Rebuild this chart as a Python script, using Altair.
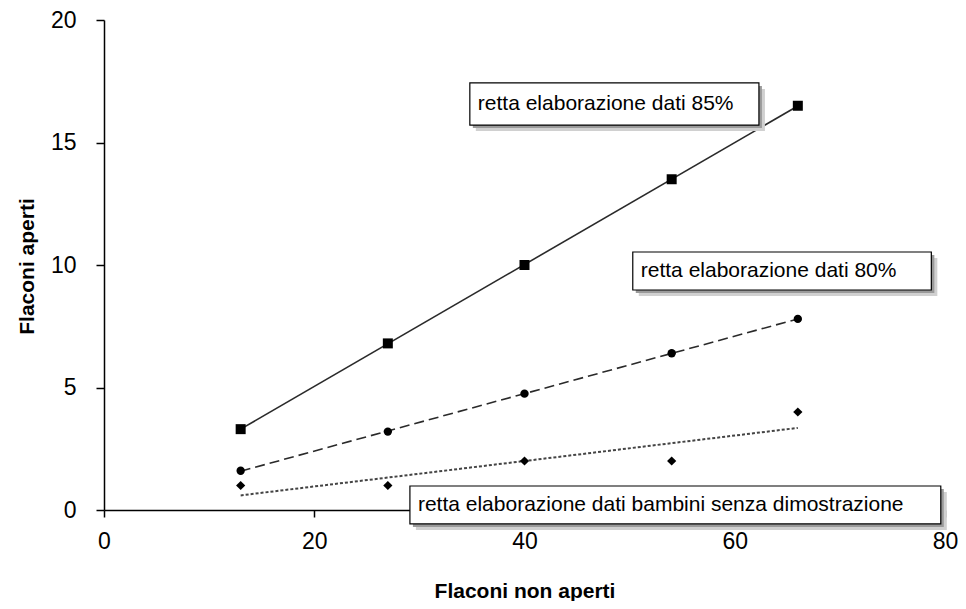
import altair as alt
import pandas as pd

# ---- data ----
flaconi_non_aperti = [13, 27, 40, 54, 66]
aperti_85 = [3.3, 6.8, 10.0, 13.5, 16.5]
aperti_80 = [1.6, 3.2, 4.75, 6.4, 7.8]
aperti_bambini = [1, 1, 2, 2, 4]
series_names = ["85%", "80%", "bambini"]

x_ticks = [0, 20, 40, 60, 80]
y_ticks = [0, 5, 10, 15, 20]

ann_labels = [
    "retta elaborazione dati 85%",
    "retta elaborazione dati 80%",
    "retta elaborazione dati bambini senza dimostrazione",
]
ann_x0 = [34.8, 50.3, 29.1]
ann_x1 = [62.3, 78.7, 79.6]
ann_y0 = [17.43, 10.53, 0.98]
ann_y1 = [15.71, 8.98, -0.57]

# ---- tables ----
df = pd.DataFrame({
    "x": flaconi_non_aperti * 3,
    "y": aperti_85 + aperti_80 + aperti_bambini,
    "serie": [s for s in series_names for _ in flaconi_non_aperti],
})
ann = pd.DataFrame({
    "label": ann_labels, "x0": ann_x0, "x1": ann_x1, "y0": ann_y0, "y1": ann_y1,
})
ann["ym"] = (ann["y0"] + ann["y1"]) / 2

FONT = "Liberation Sans"
xscale = alt.Scale(domain=[0, 80], nice=False)
yscale = alt.Scale(domain=[0, 20], nice=False)

axis_x = alt.Axis(values=x_ticks, grid=False, tickSize=7, labelPadding=13,
                  labelBaseline="top", labelFlush=False,
                  titleY=87, titleBaseline="alphabetic")
axis_y = alt.Axis(values=y_ticks, grid=False, tickSize=8, labelPadding=20,
                  labelFlush=False,
                  titleX=-71, titleY=246, titleAngle=-90,
                  titleBaseline="alphabetic", titleAlign="center")

def X(field):
    return alt.X(f"{field}:Q", scale=xscale, axis=axis_x, title="Flaconi non aperti")

def Y(field):
    return alt.Y(f"{field}:Q", scale=yscale, axis=axis_y, title="Flaconi aperti")

base = alt.Chart(df)
styles = {
    "85%": dict(dash=None, shape="square", size=100),
    "80%": dict(dash=[10, 5], shape="circle", size=70),
    "bambini": dict(dash=[3, 2], shape="diamond", size=85),
}

layers = []
for name in series_names:
    st = styles[name]
    line_kw = dict(color="#2a2a2a", strokeWidth=1.6)
    if st["dash"]:
        line_kw["strokeDash"] = st["dash"]
    if name == "bambini":
        line_kw["color"] = "#444444"
        line_kw["strokeWidth"] = 2
    line = (base.transform_filter(alt.datum.serie == name)
            .transform_regression("x", "y")
            .mark_line(**line_kw)
            .encode(x=X("x"), y=Y("y")))
    pts = (base.transform_filter(alt.datum.serie == name)
           .mark_point(shape=st["shape"], filled=True, size=st["size"],
                       color="black", opacity=1)
           .encode(x=X("x"), y=Y("y")))
    layers += [line, pts]

abase = alt.Chart(ann)
shadow1 = abase.mark_rect(color="#d0d0d0", xOffset=6, x2Offset=6, yOffset=6, y2Offset=6).encode(
    x=X("x0"), x2="x1", y=Y("y0"), y2="y1")
shadow2 = abase.mark_rect(color="#9a9a9a", xOffset=3, x2Offset=3, yOffset=3, y2Offset=3).encode(
    x=X("x0"), x2="x1", y=Y("y0"), y2="y1")
box = abase.mark_rect(color="white", stroke="black", strokeWidth=1.2).encode(
    x=X("x0"), x2="x1", y=Y("y0"), y2="y1")
txt = abase.mark_text(align="left", baseline="middle", dx=8, font=FONT,
                      fontSize=21, color="black").encode(
    x=X("x0"), y=Y("ym"), text="label:N")

chart = alt.layer(*layers, shadow1, shadow2, box, txt).properties(
    width=841, height=490,
    autosize=alt.AutoSizeParams(type="none"),
    padding={"left": 96, "top": 12, "right": 13, "bottom": 91},
).configure_view(stroke=None).configure_axis(
    domainColor="black", domainWidth=1.5, tickColor="black", tickWidth=1.5,
    labelFont=FONT, labelFontSize=23, labelColor="black",
    titleFont=FONT, titleFontSize=21, titleFontWeight="bold", titleColor="black",
)

chart.save("out.html", embed_options={"renderer": "svg", "actions": False})
